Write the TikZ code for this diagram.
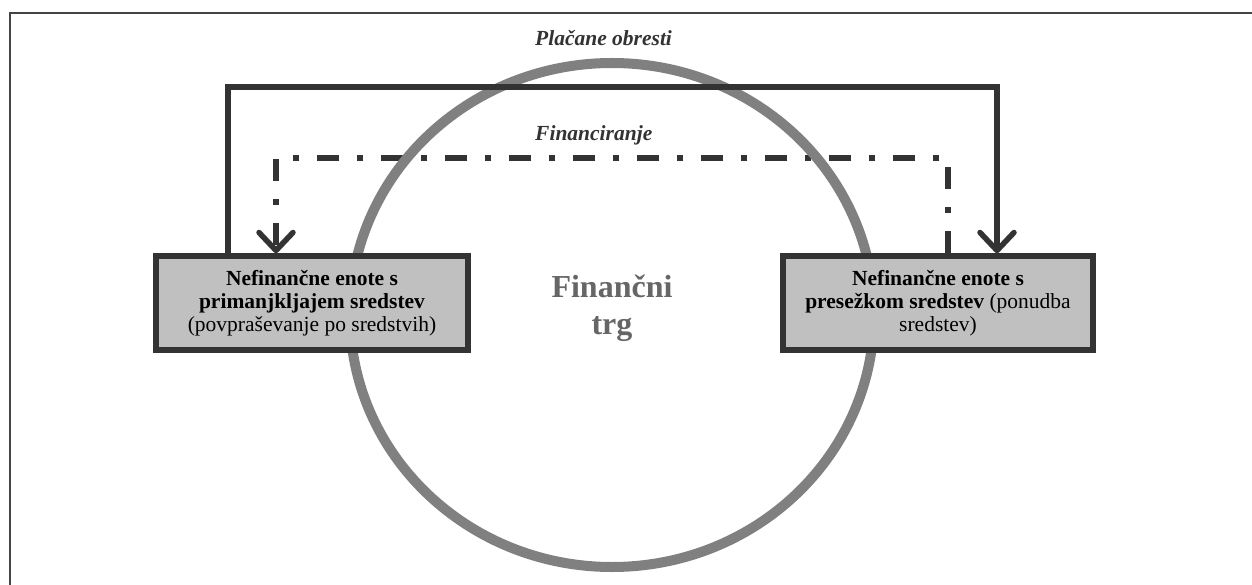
\documentclass[tikz,border=0pt]{standalone}
\usepackage{fontspec}
\setmainfont{Liberation Serif}
\usetikzlibrary{arrows.meta}
\definecolor{ink}{HTML}{333333}
\definecolor{ring}{HTML}{808080}
\definecolor{boxfill}{HTML}{C0C0C0}
\definecolor{framec}{HTML}{444444}
\definecolor{markettext}{HTML}{666666}
\tikzset{
  unitbox/.style={draw=ink, line width=5.5pt, fill=boxfill,
    minimum width=312pt, minimum height=94pt, inner sep=0pt,
    align=center, font=\fontsize{21.5}{23}\selectfont},
  paidline/.style={draw=ink, line width=5.5pt, miter limit=10,
    -{Straight Barb[length=18pt,width=34pt,round]}},
  fundline/.style={draw=ink, line width=5.5pt,
    dash pattern=on 22pt off 18pt on 6pt off 18pt,
    -{Straight Barb[length=18pt,width=34pt,round]}},
  flowlabel/.style={anchor=west, inner sep=0pt, text=ink,
    font=\bfseries\itshape\fontsize{21.5}{23}\selectfont},
  ringline/.style={draw=ring, line width=10pt},
  marketlabel/.style={align=center, text=markettext,
    font=\bfseries\fontsize{32}{37}\selectfont}
}
\begin{document}
\begin{tikzpicture}[x=1pt,y=-1pt]
  % canvas and outer frame
  \fill[white] (0,0) rectangle (1252,585);
  \useasboundingbox (0,0) rectangle (1252,585);
  \draw[framec, line width=2.5pt] (10,590) -- (10,13) -- (1260,13);

  % the two groups of units
  \node[unitbox] (deficit) at (312,303)
    {\textbf{Nefinančne enote s}\\\textbf{primanjkljajem sredstev}\\(povpraševanje po sredstvih)};
  \node[unitbox, minimum width=310pt] (surplus) at (938,303)
    {\textbf{Nefinančne enote s}\\\textbf{presežkom sredstev} (ponudba\\sredstev)};

  % routing points for the flows
  \coordinate (paidL) at (228,87);
  \coordinate (paidR) at (997,87);
  \coordinate (fundL) at (276,158);
  \coordinate (fundR) at (948,158);

  % funding flow: surplus -> deficit
  \draw[fundline] (surplus.north -| fundR) -- (fundR) -- (fundL) -- (deficit.north -| fundL);

  % the financial market
  \draw[ringline] (612,315) ellipse [x radius=262, y radius=252];
  \node[marketlabel] (market) at (612,308) {Finančni\\trg};

  % interest flow: deficit -> surplus
  \draw[paidline] (deficit.north -| paidL) -- (paidL) -- (paidR) -- (surplus.north -| paidR);

  % boxes redrawn on top of the ring
  \node[unitbox] at (deficit) {\textbf{Nefinančne enote s}\\\textbf{primanjkljajem sredstev}\\(povpraševanje po sredstvih)};
  \node[unitbox, minimum width=310pt] at (surplus) {\textbf{Nefinančne enote s}\\\textbf{presežkom sredstev} (ponudba\\sredstev)};

  % flow labels
  \node[flowlabel] (paidlbl) at (535,38) {Plačane obresti};
  \node[flowlabel] (fundlbl) at (535,135) {Financiranje};
\end{tikzpicture}
\end{document}
